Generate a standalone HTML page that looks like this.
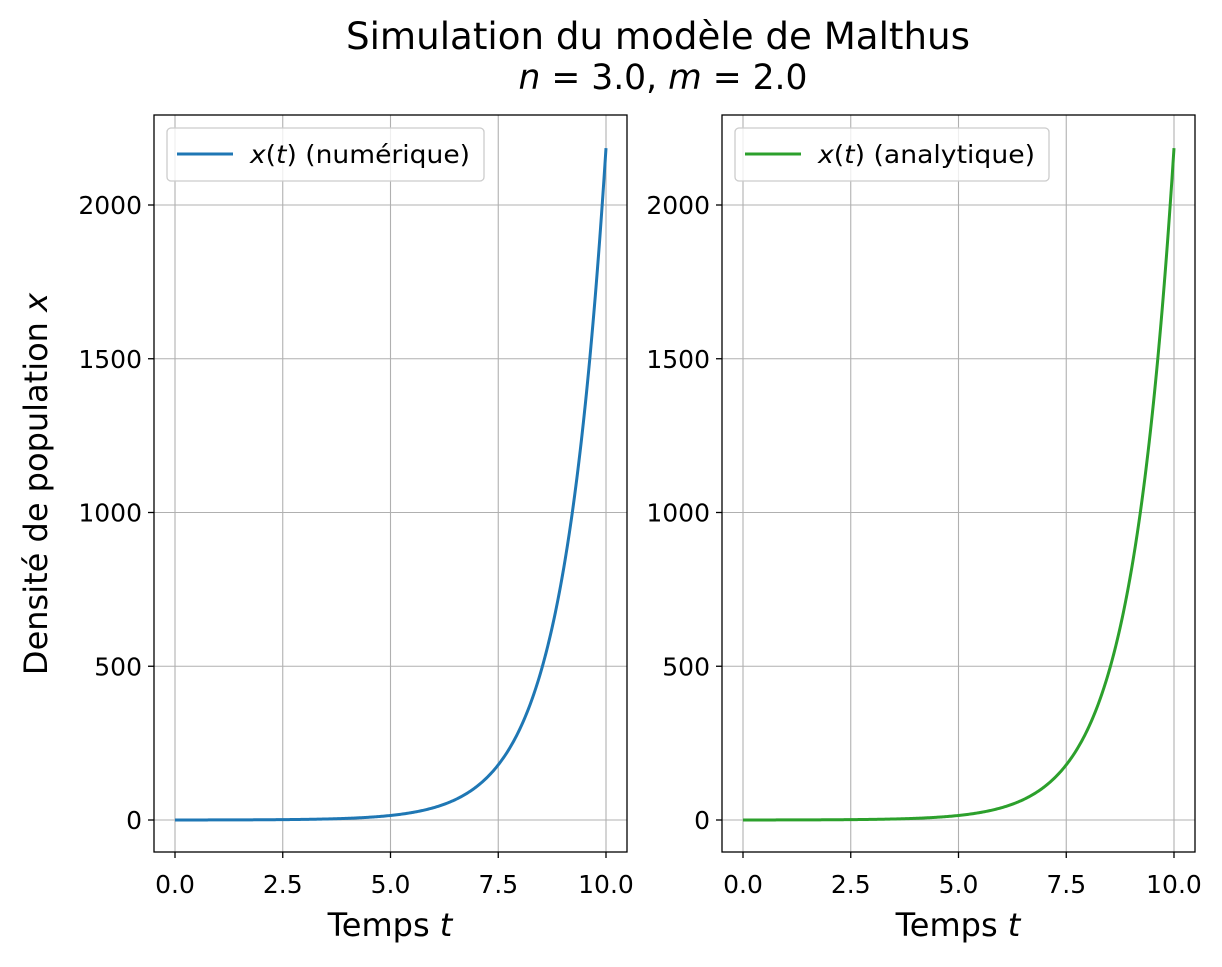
<!DOCTYPE html>
<html><head><meta charset="utf-8"><style>
body{margin:0;background:#fff}
svg text{font-family:"DejaVu Sans","Liberation Sans",sans-serif;fill:#000}
</style></head><body>
<svg id="s" width="1222" height="962" xmlns="http://www.w3.org/2000/svg">
<text x="658" y="49" font-size="37" text-anchor="middle" textLength="624" lengthAdjust="spacingAndGlyphs">Simulation du modèle de Malthus</text>
<text x="663" y="89" font-size="35" text-anchor="middle" textLength="289" lengthAdjust="spacingAndGlyphs"><tspan font-style="italic">n</tspan> = 3.0, <tspan font-style="italic">m</tspan> = 2.0</text>
<g id="g"></g>
<text x="390" y="936" font-size="32" text-anchor="middle">Temps <tspan font-style="italic">t</tspan></text>
<text x="958" y="936" font-size="32" text-anchor="middle">Temps <tspan font-style="italic">t</tspan></text>
<text transform="translate(47,484) rotate(-90)" font-size="32" text-anchor="middle">Densité de population <tspan font-style="italic">x</tspan></text>
</svg>
<script>
var g=document.getElementById('g'),h='';
function panel(L,R,x0,color,label){
  var T=115,B=852,y0=820,sy=0.3075,sx=43.1;
  for(var i=0;i<=4;i++){var x=x0+i*2.5*sx;
    h+='<line x1="'+x+'" y1="'+T+'" x2="'+x+'" y2="'+B+'" stroke="#b0b0b0" stroke-width="1.1"/>';
    h+='<line x1="'+x+'" y1="'+B+'" x2="'+x+'" y2="'+(B+6)+'" stroke="#000" stroke-width="1.3"/>';
    h+='<text x="'+x+'" y="'+(B+41)+'" font-size="25" text-anchor="middle">'+(i*2.5).toFixed(1)+'</text>';}
  for(var j=0;j<=4;j++){var y=y0-j*500*sy;
    h+='<line x1="'+L+'" y1="'+y+'" x2="'+R+'" y2="'+y+'" stroke="#b0b0b0" stroke-width="1.1"/>';
    h+='<line x1="'+(L-6)+'" y1="'+y+'" x2="'+L+'" y2="'+y+'" stroke="#000" stroke-width="1.3"/>';
    h+='<text x="'+(L-12)+'" y="'+(y+9)+'" font-size="25" text-anchor="end">'+(j*500)+'</text>';}
  var p='';for(var k=0;k<=400;k++){var t=k/40;p+=(x0+t*sx).toFixed(2)+','+(y0-0.0992*Math.exp(t)*sy).toFixed(2)+' ';}
  h+='<polyline points="'+p+'" fill="none" stroke="'+color+'" stroke-width="3"/>';
  h+='<rect x="'+L+'" y="'+T+'" width="'+(R-L)+'" height="'+(B-T)+'" fill="none" stroke="#000" stroke-width="1.3"/>';
  h+='<rect x="'+(L+13)+'" y="128" width="'+label[1]+'" height="53" rx="4" fill="#fff" fill-opacity="0.8" stroke="#ccc" stroke-width="1.3"/>';
  h+='<line x1="'+(L+23)+'" y1="154" x2="'+(L+79)+'" y2="154" stroke="'+color+'" stroke-width="3"/>';
  h+='<text x="'+(L+96)+'" y="163" font-size="25" textLength="'+label[2]+'" lengthAdjust="spacingAndGlyphs"><tspan font-style="italic">x</tspan>(<tspan font-style="italic">t</tspan>) '+label[0]+'</text>';
}
panel(154,627,175,'#1f77b4',['(numérique)',317,220]);
panel(722,1195,743,'#2ca02c',['(analytique)',314,217]);
g.innerHTML=h;
</script>
</body></html>
